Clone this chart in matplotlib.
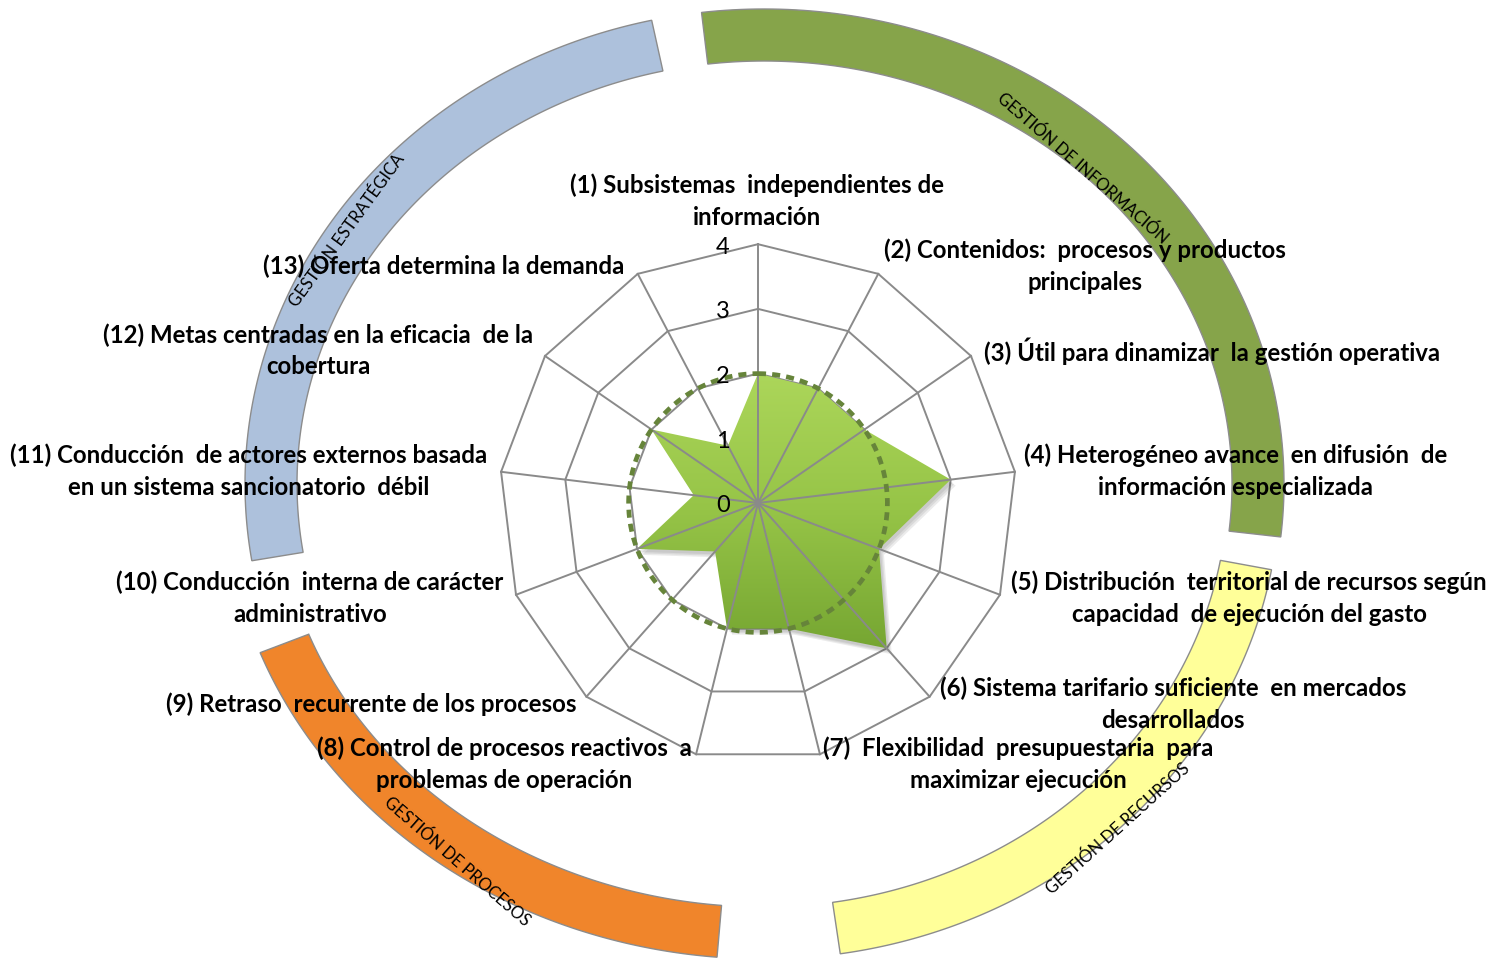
import matplotlib.pyplot as plt
import numpy as np
from matplotlib.colors import LinearSegmentedColormap
from matplotlib.patches import Polygon

# criteria on the radar (clockwise from the top)
categories = [
    "(1) Subsistemas  independientes de\ninformación",
    "(2) Contenidos:  procesos y productos\nprincipales",
    "(3) Útil para dinamizar  la gestión operativa",
    "(4) Heterogéneo avance  en difusión  de\ninformación especializada",
    "(5) Distribución  territorial de recursos según\ncapacidad  de ejecución del gasto",
    "(6) Sistema tarifario suficiente  en mercados\ndesarrollados",
    "(7)  Flexibilidad  presupuestaria  para\nmaximizar ejecución",
    "(8) Control de procesos reactivos  a\nproblemas de operación",
    "(9) Retraso  recurrente de los procesos",
    "(10) Conducción  interna de carácter\nadministrativo",
    "(11) Conducción  de actores externos basada\nen un sistema sancionatorio  débil",
    "(12) Metas centradas en la eficacia  de la\ncobertura",
    "(13) Oferta determina la demanda",
]
scores = [2, 2, 2, 3, 2, 3, 2, 2, 1, 2, 1, 2, 1]
reference = 2
ticks = [0, 1, 2, 3, 4]

groups = ["GESTIÓN DE INFORMACIÓN", "GESTIÓN DE RECURSOS",
          "GESTIÓN DE PROCESOS", "GESTIÓN ESTRATÉGICA"]
group_colors = ["#86a44a", "#ffff99", "#f0852b", "#adc1dc"]

# layout (pixel coordinates of the 1501x958 canvas)
cx, cy, unit = 758, 503, 64.7
label_pos = [(757, 185), (1085, 250), (1212, 351), (1236, 455), (1249, 582),
             (1173, 688), (1018, 748), (504, 748), (371, 704), (310, 582),
             (249, 455), (318, 335), (444, 266)]
line_gap = 32
ring_c = (764, 484)
ring_rx = [468, 464, 487, 467]
ring_ry = 423
ring_w = 52
group_spans = [(-6.9, 96.4), (100.4, 171.5), (185.0, 249.2), (260.7, 347.5)]
group_text = [((1083, 168), -41), ((1118, 829), 42), ((457, 862), -41), ((347, 230), 54)]

font = ["Lato", "DejaVu Sans"]

fig = plt.figure(figsize=(15.01, 9.58), dpi=100)
ax = fig.add_axes([0, 0, 1, 1])

n = len(categories)
theta = 2 * np.pi * np.arange(n) / n
sin, cos = np.sin(theta), np.cos(theta)


def to_xy(r):
    r = np.asarray(r, dtype=float)
    return np.column_stack([cx + r * unit * sin, cy - r * unit * cos])


# outer group rings
for name, col, rx, (a0, a1), ((tx, ty), rot) in zip(groups, group_colors, ring_rx,
                                                    group_spans, group_text):
    t = np.radians(np.linspace(a0, a1, 120))
    inner = np.column_stack([ring_c[0] + rx * np.sin(t), ring_c[1] - ring_ry * np.cos(t)])
    outer = np.column_stack([ring_c[0] + (rx + ring_w) * np.sin(t[::-1]),
                             ring_c[1] - (ring_ry + ring_w) * np.cos(t[::-1])])
    ax.add_patch(Polygon(np.vstack([inner, outer]), closed=True, facecolor=col,
                         edgecolor="#8c8c8c", lw=1.0, zorder=1))
    ax.text(tx, ty, name, rotation=rot, rotation_mode="anchor", ha="center", va="center",
            fontsize=12, family=font, zorder=6)

# grid polygons
for lv in ticks[1:]:
    p = to_xy([lv] * n)
    ax.add_patch(Polygon(p, closed=True, fill=False, edgecolor="#8a8a8a", lw=1.4, zorder=2))

# score area with vertical gradient and a soft shadow
pts = to_xy(scores)
for k in range(3):
    ax.add_patch(Polygon(pts + [2 + k * 1.5, 3 + k * 1.5], closed=True, facecolor="#404040",
                         edgecolor="none", alpha=0.10, zorder=2.5))
area = Polygon(pts, closed=True, facecolor="none", edgecolor="none", zorder=3)
ax.add_patch(area)
cmap = LinearSegmentedColormap.from_list("area", ["#acd65a", "#96c447", "#76a632"])
grad = np.linspace(0, 1, 256).reshape(-1, 1)
im = ax.imshow(grad, cmap=cmap, aspect="auto", zorder=3,
               extent=(pts[:, 0].min(), pts[:, 0].max(), pts[:, 1].max(), pts[:, 1].min()))
im.set_clip_path(area)

# spokes
rim = to_xy([ticks[-1]] * n)
for x, y in rim:
    ax.plot([cx, x], [cy, y], color="#8a8a8a", lw=1.4, zorder=4)

# reference level
t = np.linspace(0, 2 * np.pi, 400)
ax.plot(cx + reference * unit * np.sin(t), cy - reference * unit * np.cos(t),
        color="#66843a", lw=3.4, ls=(0, (1.7, 1.3)), zorder=5)

# value ticks
for lv in ticks:
    ax.text(cx - 35, cy - lv * unit + 3, str(lv), ha="center", va="center",
            fontsize=17, family=font, zorder=6)

# category labels
for lab, (x, y) in zip(categories, label_pos):
    for i, line in enumerate(lab.split("\n")):
        ax.text(x, y + i * line_gap, line, ha="center", va="center", fontsize=17.3,
                fontweight="bold", family=font, zorder=7)

ax.set_xlim(0, 1501)
ax.set_ylim(958, 0)
ax.axis("off")
fig.savefig("out.png", dpi=100)
